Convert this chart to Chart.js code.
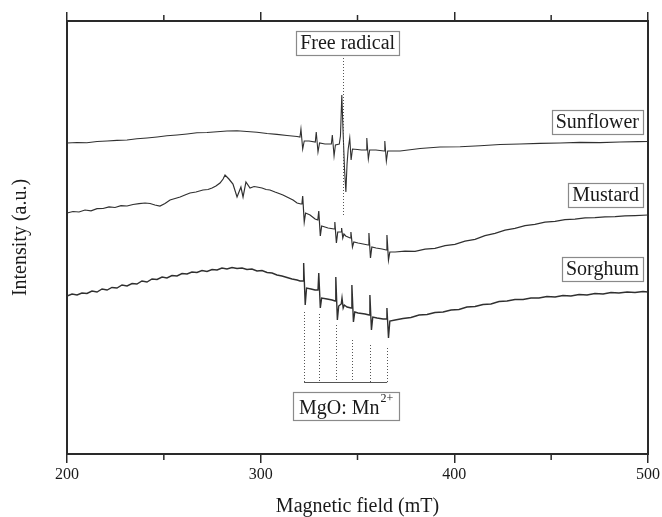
<!DOCTYPE html>
<html>
<head>
<meta charset="utf-8">
<script src="https://cdn.jsdelivr.net/npm/chart.js@4.4.1/dist/chart.umd.min.js"></script>
<style>
  html, body { margin: 0; padding: 0; background: #fff; }
  canvas { display: block; }
</style>
</head>
<body>
<canvas id="c" width="662" height="517"></canvas>
<script>
// ---------- DATA (magnetic field in mT, intensity in arbitrary units) ----------
const xTicks = [200, 300, 400, 500];
const xMinorTicks = [250, 350, 450];

const sunflowerField = [200.0,205.2,210.3,215.5,220.7,225.8,231.0,236.1,241.3,246.5,251.6,256.8,262.0,267.1,272.3,277.5,282.6,287.8,292.9,298.1,303.3,308.4,313.6,318.8,
  320.3,320.8,321.7,322.5,325.0,328.2,328.7,329.6,330.4,333.2,336.5,337.0,337.9,338.6,340.6,341.2,341.9,342.6,343.3,344.0,344.6,345.2,345.6,346.0,346.7,347.4,350.0,352.0,354.4,354.8,355.6,356.3,359.5,363.7,364.1,364.9,365.6,
  372.0,382.3,392.6,403.0,413.3,423.6,433.9,444.2,454.6,464.9,475.2,485.5,495.0,500.0];
const sunflowerIntensity = [311,311.5,311.2,312.5,313,313.6,314,315.2,316,317,318.2,319,320,321.2,321.5,322.3,323,323.2,322.5,321.7,320.5,319.6,318.5,317.5,
  317,325,305,313,313,312,322,302,311,310,310,319,298,309,310,318,359,320,285,262,290,305,305,316,294,305,304.5,304,304,316,295,304,304,303,313,293,303,
  303,305.5,307,307.3,308.2,309.5,310,310.6,311,311.6,311.4,312,312.4,312.5];

const mustardField = [200.0,203.1,206.2,209.3,212.4,215.5,218.6,221.7,224.8,227.9,231.0,234.1,237.2,240.3,242.9,245.4,248.0,250.6,253.2,255.8,258.4,260.9,263.5,266.6,270.2,272.8,274.9,276.9,279.0,280.6,281.6,283.6,285.7,287.8,289.8,290.9,292.4,294.5,296.6,298.1,300.7,302.8,304.8,307.4,309.5,311.5,314.1,316.7,318.8,320.8,
  321.3,321.7,322.5,323.2,325.5,328.1,329.5,330.0,330.8,331.5,334.8,337.9,338.3,339.1,339.8,341.5,341.8,342.4,343.0,343.9,346.2,346.6,347.4,348.1,350.3,352.9,355.5,355.9,356.7,357.4,359.6,362.7,364.8,365.2,366.0,366.7,
  369.4,374.5,379.7,384.9,390.0,395.2,400.3,405.5,410.7,415.8,421.0,426.2,431.3,436.5,441.6,446.8,452.0,457.1,462.3,467.5,472.6,477.8,483.0,488.1,493.3,500.0];
const mustardIntensity = [241,242.5,242,244,243.2,245.3,245.5,247.2,246.5,248.3,248,249.5,250.3,251,250.5,249,248,250.5,254,255.5,257,259,261,262,264,264.5,266,268,271,275,279,275,270,257,267,257,272,266,267.5,267,266,264.5,264,262,260.5,259,256.5,254,251,250,
  250,258,232,241,239,235,234,243,218,228,226,225,232,211,222,222,226,216,220,218,216,222,207,212,211,210,209,221,196,207,206,205,204,219,194,202,
  202,202.8,202.6,204.8,205.6,208.3,209.6,212.8,214.6,218.3,220.6,223.8,225.6,228.3,229.6,231.8,232.7,234.3,234.8,236.2,236.3,237.2,237.3,238.1,238.4,239];

const sorghumField = [200.0,202.6,205.2,207.7,210.3,212.9,215.5,218.1,220.7,223.2,225.8,228.4,231.0,233.6,236.1,238.7,241.3,243.9,246.5,249.1,251.6,254.2,256.8,259.4,262.0,264.5,267.1,269.7,272.3,274.9,277.5,280.0,282.6,285.2,287.8,290.4,292.9,295.5,298.1,300.7,303.3,305.9,308.4,311.0,313.6,316.2,318.8,320.3,
  321.9,322.2,323.0,323.7,326.0,328.1,329.6,330.0,330.8,331.5,334.3,336.9,338.4,338.8,339.6,340.3,341.6,342.0,342.6,343.2,344.6,346.7,347.1,347.9,348.6,350.3,353.9,356.0,356.4,357.2,357.9,360.1,363.2,364.8,365.2,366.0,366.7,
  369.4,373.5,377.6,381.8,385.9,390.0,394.2,398.3,402.4,406.5,410.7,414.8,418.9,423.1,427.2,431.3,435.5,439.6,443.7,447.8,452.0,456.1,460.2,464.4,468.5,472.6,476.8,480.9,485.0,489.2,493.3,497.4,500.0];
const sorghumIntensity = [158,160,159,161,160.5,163,162,165,164,166.5,166,169,168,170.5,170,173,172,175,174.5,177,176,178.5,178,180.5,180,182,181.5,183.5,182.5,184.5,184,186,185,186.5,185.5,186,184.5,185,183,183.5,181.5,181,179,178,176.5,175,174,173,
  173,191,149,166,165,164,164,181,146,156,155,154,153,177,134,148,150,156,146,149,147,146,169,132,142,141,140,139,159,124,137,136,135,135,146,116,133,
  134,135.5,136.5,139,139.5,141.5,142,144,144.5,147,147.5,149.5,150,152.5,153,154.5,154.5,156,156,157.5,157,158.5,158,159.5,159,160.5,160,161.5,161,162,161.5,162.5,162];

// Mn2+ sextet markers and free-radical marker
const mnFields = [322.4, 330.1, 338.9, 347.2, 356.5, 365.3];
const mnDotStart = [142, 140, 129, 114, 109, 106];
const mnBracketLevel = 72;
const radicalField = 342.4;
const radicalTop = 399;
const radicalBottom = 239;

// ---------- CHART ----------
const toPts = (xs, ys) => xs.map((x, i) => ({ x: x, y: ys[i] }));
const lineColor = '#303030';
const axisColor = '#2a2a2a';
const serif = '"Liberation Serif", "Times New Roman", serif';

const labels = [
  { text: 'Free radical', field: 344.9, level: 411, align: 'center' },
  { text: 'Sunflower', field: 497.4, level: 332, align: 'right' },
  { text: 'Mustard', field: 497.4, level: 259, align: 'right' },
  { text: 'Sorghum', field: 497.4, level: 185, align: 'right' }
];

const bgPlugin = {
  id: 'bg',
  beforeDraw(chart) {
    const c = chart.ctx;
    c.save(); c.fillStyle = '#fff'; c.fillRect(0, 0, chart.width, chart.height); c.restore();
  }
};

function drawBox(c, x, y, w, h) {
  c.fillStyle = '#fff';
  c.fillRect(x, y, w, h);
  c.strokeStyle = '#8a8a8a';
  c.lineWidth = 1.2;
  c.strokeRect(x, y, w, h);
}

const annPlugin = {
  id: 'ann',
  afterDraw(chart) {
    const c = chart.ctx;
    const xs = chart.scales.x, ys = chart.scales.y;
    const area = chart.chartArea;
    c.save();
    // minor ticks
    c.strokeStyle = axisColor; c.lineWidth = 1.5;
    xMinorTicks.forEach(v => {
      const px = xs.getPixelForValue(v);
      c.beginPath(); c.moveTo(px, area.top); c.lineTo(px, area.top - 6); c.stroke();
      c.beginPath(); c.moveTo(px, area.bottom); c.lineTo(px, area.bottom + 6); c.stroke();
    });
    // dotted Mn lines
    c.strokeStyle = '#555'; c.lineWidth = 1;
    c.setLineDash([1, 2]);
    const yb = ys.getPixelForValue(mnBracketLevel);
    mnFields.forEach((f, i) => {
      const px = Math.round(xs.getPixelForValue(f)) + 0.5;
      c.beginPath(); c.moveTo(px, ys.getPixelForValue(mnDotStart[i])); c.lineTo(px, yb); c.stroke();
    });
    // radical dotted line
    const rx = Math.round(xs.getPixelForValue(radicalField)) + 0.5;
    c.beginPath(); c.moveTo(rx, ys.getPixelForValue(radicalTop)); c.lineTo(rx, ys.getPixelForValue(radicalBottom)); c.stroke();
    c.setLineDash([]);
    // bracket
    c.strokeStyle = '#555'; c.lineWidth = 1;
    c.beginPath();
    c.moveTo(xs.getPixelForValue(mnFields[0]), Math.round(yb) + 0.5);
    c.lineTo(xs.getPixelForValue(mnFields[mnFields.length - 1]), Math.round(yb) + 0.5);
    c.stroke();

    // label boxes
    c.font = '20px ' + serif;
    c.textBaseline = 'middle';
    labels.forEach(l => {
      const w = c.measureText(l.text).width;
      const bw = w + 8, bh = 24;
      const px = xs.getPixelForValue(l.field);
      const py = ys.getPixelForValue(l.level);
      const bx = l.align === 'right' ? px - bw : px - bw / 2;
      drawBox(c, Math.round(bx) + 0.5, Math.round(py - bh / 2) + 0.5, Math.round(bw), bh);
      c.fillStyle = '#1a1a1a';
      c.textAlign = 'left';
      c.fillText(l.text, bx + 4, py + 1);
    });
    // MgO: Mn2+
    const mText = 'MgO: Mn', sup = '2+';
    c.font = '20px ' + serif;
    const mw = c.measureText(mText).width;
    c.font = '12px ' + serif;
    const sw = c.measureText(sup).width;
    const tw = mw + sw + 1;
    const cx = xs.getPixelForValue(344.1), cy = ys.getPixelForValue(48);
    const bw = tw + 12, bh = 28;
    const bx = cx - bw / 2;
    drawBox(c, Math.round(bx) + 0.5, Math.round(cy - bh / 2) + 0.5, Math.round(bw), bh);
    c.fillStyle = '#1a1a1a';
    c.textAlign = 'left';
    c.font = '20px ' + serif;
    c.fillText(mText, bx + 6, cy + 3);
    c.font = '12px ' + serif;
    c.fillText(sup, bx + 6 + mw + 1, cy - 7);
    c.restore();
  }
};

const common = { borderColor: lineColor, pointRadius: 0, tension: 0, fill: false };

new Chart(document.getElementById('c'), {
  type: 'line',
  data: {
    datasets: [
      Object.assign({ label: 'Sunflower', data: toPts(sunflowerField, sunflowerIntensity), borderWidth: 1.1 }, common),
      Object.assign({ label: 'Mustard', data: toPts(mustardField, mustardIntensity), borderWidth: 1.2 }, common),
      Object.assign({ label: 'Sorghum', data: toPts(sorghumField, sorghumIntensity), borderWidth: 1.4 }, common)
    ]
  },
  options: {
    responsive: false,
    animation: false,
    layout: { padding: 0 },
    plugins: { legend: { display: false }, tooltip: { enabled: false } },
    scales: {
      x: {
        type: 'linear', position: 'bottom', min: 200, max: 500,
        afterBuildTicks(s) { s.ticks = xTicks.map(v => ({ value: v })); },
        ticks: { color: '#1a1a1a', font: { family: serif, size: 16 }, padding: 2, maxRotation: 0, autoSkip: false },
        grid: { drawOnChartArea: false, drawTicks: true, tickLength: 9, color: axisColor, lineWidth: 1.5 },
        border: { display: true, color: axisColor, width: 2 },
        title: { display: true, text: 'Magnetic field (mT)', color: '#1a1a1a', font: { family: serif, size: 20, lineHeight: 1.0 }, padding: { top: 0, bottom: 0 } },
        afterFit(s) { s.height = 63; }
      },
      x2: {
        type: 'linear', position: 'top', min: 200, max: 500,
        afterBuildTicks(s) { s.ticks = xTicks.map(v => ({ value: v })); },
        ticks: { display: true, callback: () => '', padding: 0 },
        grid: { drawOnChartArea: false, drawTicks: true, tickLength: 9, color: axisColor, lineWidth: 1.5 },
        border: { display: true, color: axisColor, width: 2 },
        afterFit(s) { s.height = 21; }
      },
      y: {
        type: 'linear', position: 'left', min: 0, max: 433,
        ticks: { display: false },
        grid: { display: false },
        border: { display: true, color: axisColor, width: 2 },
        title: { display: true, text: 'Intensity (a.u.)', color: '#1a1a1a', font: { family: serif, size: 20 }, padding: { top: 9, bottom: 0 } },
        afterFit(s) { s.width = 67; }
      },
      y2: {
        type: 'linear', position: 'right', min: 0, max: 433,
        ticks: { display: false },
        grid: { display: false },
        border: { display: true, color: axisColor, width: 2 },
        afterFit(s) { s.width = 14; }
      }
    }
  },
  plugins: [bgPlugin, annPlugin]
});
</script>
</body>
</html>
